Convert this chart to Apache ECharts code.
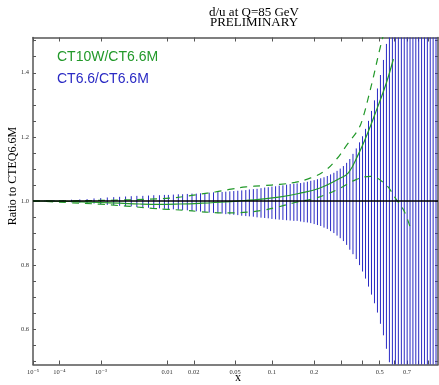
<!DOCTYPE html>
<html>
<head>
<meta charset="UTF-8">
<title>d/u at Q=85 GeV</title>
<script src="https://cdn.jsdelivr.net/npm/echarts@6/dist/echarts.min.js"></script>
<style>
html, body { margin: 0; padding: 0; background: #fff; }
#main { width: 439px; height: 385px; }
</style>
</head>
<body>
<div id="main"></div>
<script>
// CT6.6/CT6.6M error bars: x grid and band edges
var barX = [3.24e-5, 6.73e-5, 1.30e-4, 2.20e-4, 3.53e-4, 5.17e-4, 7.26e-4, 9.86e-4, 1.31e-3, 1.70e-3,
  2.14e-3, 2.67e-3, 3.27e-3, 3.96e-3, 4.82e-3, 5.77e-3, 6.78e-3, 8.03e-3, 9.26e-3, 0.01035,
  0.01186, 0.01354, 0.01513, 0.01705, 0.01914, 0.02124, 0.0235, 0.0260, 0.0287, 0.0316,
  0.0348, 0.0381, 0.0412, 0.0448, 0.0486, 0.0527, 0.0570, 0.0617, 0.0661, 0.0713,
  0.0764, 0.0822, 0.0879, 0.0937, 0.1000, 0.1066, 0.1135, 0.1209, 0.1286, 0.1365,
  0.1450, 0.1530, 0.1618, 0.1707, 0.1801, 0.1898, 0.2000, 0.2103, 0.2210, 0.2321,
  0.2437, 0.2557, 0.2682, 0.2808, 0.2938, 0.3073, 0.3214, 0.3359, 0.3510, 0.3670,
  0.3837, 0.3994, 0.4156, 0.4323, 0.4495, 0.4673, 0.4856, 0.5045, 0.5240, 0.5441,
  0.5648, 0.5861, 0.6081, 0.6307, 0.6540, 0.6772, 0.7011, 0.7255, 0.7507, 0.7765,
  0.8031, 0.8304, 0.8583, 0.8871, 0.9166, 0.9470, 0.9781];
var barHi = [1.002, 1.003, 1.003, 1.004, 1.005, 1.006, 1.008, 1.009, 1.011, 1.012,
  1.013, 1.014, 1.015, 1.016, 1.016, 1.017, 1.018, 1.018, 1.019, 1.019,
  1.020, 1.021, 1.021, 1.022, 1.023, 1.023, 1.024, 1.025, 1.026, 1.027,
  1.028, 1.028, 1.029, 1.030, 1.031, 1.032, 1.033, 1.034, 1.036, 1.037,
  1.038, 1.040, 1.042, 1.043, 1.045, 1.046, 1.048, 1.049, 1.051, 1.053,
  1.054, 1.055, 1.056, 1.058, 1.060, 1.063, 1.065, 1.068, 1.071, 1.074,
  1.078, 1.083, 1.088, 1.094, 1.101, 1.109, 1.119, 1.131, 1.147, 1.164,
  1.183, 1.202, 1.225, 1.250, 1.281, 1.314, 1.351, 1.393, 1.440, 1.490,
  1.55, 1.61, 1.68, 1.75, 1.83, 1.92, 2.02, 2.13, 2.25, 2.38,
  2.52, 2.67, 2.83, 3.00, 3.20, 3.40, 3.60];
var barLo = [0.998, 0.997, 0.997, 0.996, 0.995, 0.994, 0.992, 0.990, 0.988, 0.987,
  0.985, 0.984, 0.983, 0.981, 0.980, 0.979, 0.978, 0.977, 0.976, 0.975,
  0.974, 0.973, 0.972, 0.971, 0.969, 0.968, 0.967, 0.966, 0.964, 0.963,
  0.962, 0.961, 0.959, 0.958, 0.957, 0.956, 0.954, 0.953, 0.952, 0.951,
  0.949, 0.948, 0.947, 0.946, 0.944, 0.943, 0.942, 0.941, 0.940, 0.939,
  0.938, 0.938, 0.936, 0.934, 0.933, 0.931, 0.928, 0.925, 0.922, 0.917,
  0.913, 0.906, 0.900, 0.892, 0.884, 0.875, 0.863, 0.848, 0.834, 0.819,
  0.800, 0.780, 0.758, 0.733, 0.708, 0.681, 0.652, 0.617, 0.581, 0.539,
  0.497, 0.45, 0.40, 0.36, 0.32, 0.28, 0.24, 0.20, 0.17, 0.14,
  0.11, 0.08, 0.05, 0.03, 0.01, 0.0, 0.0];

// CT10W/CT6.6M central value
var cenX = [1e-5, 1.04e-4, 3.53e-4, 9.43e-4, 2.14e-3, 4.33e-3, 8.03e-3, 0.0139, 0.0228, 0.0406, 0.0597,
  0.0792, 0.1129, 0.1572, 0.2144, 0.2873, 0.3304, 0.3786, 0.4210, 0.4733, 0.5441, 0.5934];
var cenR = [1.000, 0.999, 0.9975, 0.9953, 0.9931, 0.9906, 0.9894, 0.9906, 0.9928, 0.9969, 1.0016,
  1.0053, 1.0119, 1.0234, 1.0391, 1.0688, 1.0888, 1.147, 1.203, 1.275, 1.369, 1.443];
// CT10W/CT6.6M upper and lower error edges (dashed)
var upX = [1e-5, 3.53e-4, 2.14e-3, 5.95e-3, 0.01064, 0.0158, 0.0228, 0.0328, 0.0460, 0.0620, 0.0852,
  0.1149, 0.1474, 0.1898, 0.2345, 0.2792, 0.3259, 0.3786, 0.4048, 0.4323, 0.4613, 0.4918, 0.5240];
var upR = [1.000, 1.001, 1.003, 1.006, 1.009, 1.014, 1.021, 1.028, 1.037, 1.044, 1.048,
  1.052, 1.058, 1.072, 1.094, 1.131, 1.178, 1.225, 1.266, 1.325, 1.388, 1.456, 1.519];
var loX = [1e-5, 4.94e-5, 1.76e-4, 9.86e-4, 1.98e-3, 3.66e-3, 6.52e-3, 0.01007, 0.0162, 0.0228, 0.0321,
  0.0451, 0.0632, 0.0868, 0.1129, 0.1474, 0.1928, 0.2380, 0.2955, 0.3635, 0.4437, 0.5374, 0.6081,
  0.6780, 0.7367];
var loR = [1.000, 0.998, 0.995, 0.990, 0.986, 0.982, 0.977, 0.974, 0.971, 0.967, 0.964,
  0.963, 0.965, 0.972, 0.982, 0.9953, 1.006, 1.020, 1.041, 1.066, 1.077, 1.052, 1.009,
  0.967, 0.906];

// axis ticks
var xTicks = [1e-5, 1e-4, 1e-3, 0.01, 0.02, 0.05, 0.1, 0.2, 0.3, 0.4, 0.5, 0.6, 0.7, 0.8, 0.9];
var xLabelVals = [1e-5, 1e-4, 1e-3, 0.01, 0.02, 0.05, 0.1, 0.2, 0.5, 0.7];
var xLabelText = ['10\u207b\u2075', '10\u207b\u2074', '10\u207b\u00b3', '0.01', '0.02', '0.05', '0.1', '0.2', '0.5', '0.7'];
var yTicks = [0.5, 0.55, 0.6, 0.65, 0.7, 0.75, 0.8, 0.85, 0.9, 0.95, 1.0, 1.05, 1.1, 1.15, 1.2,
  1.25, 1.3, 1.35, 1.4, 1.45, 1.5];
var yLabelVals = [0.6, 0.8, 1.0, 1.2, 1.4];

var Y_MIN = 0.49, Y_MAX = 1.51;
// the plot uses x^0.2 along the horizontal axis
function tx(x) { return Math.pow(x, 0.2); }
function pairs(xs, ys) { return xs.map(function (x, i) { return [tx(x), ys[i]]; }); }

var frame = '#555';
var serif = '"Liberation Serif", "DejaVu Serif", serif';
var green = '#22992a';
var blue = '#2a2ac4';

var myChart = echarts.init(document.getElementById('main'));

function xAxisCfg(pos, labels) {
  return {
    type: 'value', position: pos, min: tx(1e-5), max: 1,
    splitLine: { show: false },
    axisLine: { onZero: false, lineStyle: { color: frame, width: 1.5 } },
    axisTick: { inside: true, length: 4, customValues: xTicks.map(tx), lineStyle: { color: frame } },
    axisLabel: {
      show: labels, customValues: xLabelVals.map(tx), margin: 4,
      fontSize: 6.5, fontFamily: serif, color: '#333',
      formatter: function (v) {
        for (var i = 0; i < xLabelVals.length; i++) {
          if (Math.abs(tx(xLabelVals[i]) - v) < 1e-6) return xLabelText[i];
        }
        return '';
      }
    }
  };
}
function yAxisCfg(pos, labels) {
  return {
    type: 'value', position: pos, min: Y_MIN, max: Y_MAX,
    splitLine: { show: false },
    axisLine: { onZero: false, lineStyle: { color: frame, width: 1.5 } },
    axisTick: { inside: true, length: 3, customValues: yTicks, lineStyle: { color: frame } },
    axisLabel: {
      show: labels, customValues: yLabelVals, margin: 4,
      fontSize: 6.5, fontFamily: serif, color: '#333',
      formatter: function (v) { return v.toFixed(1); }
    }
  };
}

var option = {
  animation: false,
  grid: { left: 33, right: 1, top: 37.5, bottom: 20.5, containLabel: false },
  xAxis: [xAxisCfg('bottom', true), xAxisCfg('top', false)],
  yAxis: [yAxisCfg('left', true), yAxisCfg('right', false)],
  graphic: [
    { type: 'text', x: 254, y: 12.5, style: { text: 'd/u at Q=85 GeV', font: '13px ' + serif, fill: '#000', align: 'center', verticalAlign: 'middle' } },
    { type: 'text', x: 254, y: 22.5, style: { text: 'PRELIMINARY', font: '13px ' + serif, fill: '#000', align: 'center', verticalAlign: 'middle' } },
    { type: 'text', x: 57, y: 57.5, style: { text: 'CT10W/CT6.6M', font: '14px "Liberation Sans", Arial, sans-serif', fill: green, verticalAlign: 'middle' } },
    { type: 'text', x: 57, y: 79.5, style: { text: 'CT6.6/CT6.6M', font: '14px "Liberation Sans", Arial, sans-serif', fill: blue, verticalAlign: 'middle' } },
    { type: 'text', x: 13, y: 176, rotation: Math.PI / 2, style: { text: 'Ratio to CTEQ6.6M', font: '12px ' + serif, fill: '#000', align: 'center', verticalAlign: 'middle' } },
    { type: 'text', x: 238, y: 378, style: { text: 'x', font: '12px ' + serif, fill: '#000', align: 'center', verticalAlign: 'middle' } }
  ],
  series: [
    {
      name: 'CT6.6/CT6.6M',
      type: 'custom',
      z: 1,
      data: barX.map(function (x, i) { return [tx(x), barLo[i], barHi[i]]; }),
      renderItem: function (params, api) {
        var lo = Math.max(api.value(1), Y_MIN);
        var hi = Math.min(api.value(2), Y_MAX);
        var p1 = api.coord([api.value(0), lo]);
        var p2 = api.coord([api.value(0), hi]);
        return {
          type: 'line',
          shape: { x1: p1[0], y1: p1[1], x2: p2[0], y2: p2[1] },
          style: { stroke: blue, lineWidth: 1 }
        };
      },
      markLine: {
        silent: true, symbol: 'none', label: { show: false },
        lineStyle: { color: '#000', width: 1.5, type: 'solid' },
        data: [{ yAxis: 1 }]
      }
    },
    {
      name: 'CT10W/CT6.6M', type: 'line', z: 3, showSymbol: false, smooth: 0.4,
      data: pairs(cenX, cenR),
      lineStyle: { color: green, width: 1.2 }
    },
    {
      name: 'CT10W up', type: 'line', z: 3, showSymbol: false, smooth: 0.4,
      data: pairs(upX, upR),
      lineStyle: { color: green, width: 1.2, type: [7, 6] }
    },
    {
      name: 'CT10W down', type: 'line', z: 3, showSymbol: false, smooth: 0.4,
      data: pairs(loX, loR),
      lineStyle: { color: green, width: 1.2, type: [7, 6] }
    }
  ]
};
myChart.setOption(option);
</script>
</body>
</html>
